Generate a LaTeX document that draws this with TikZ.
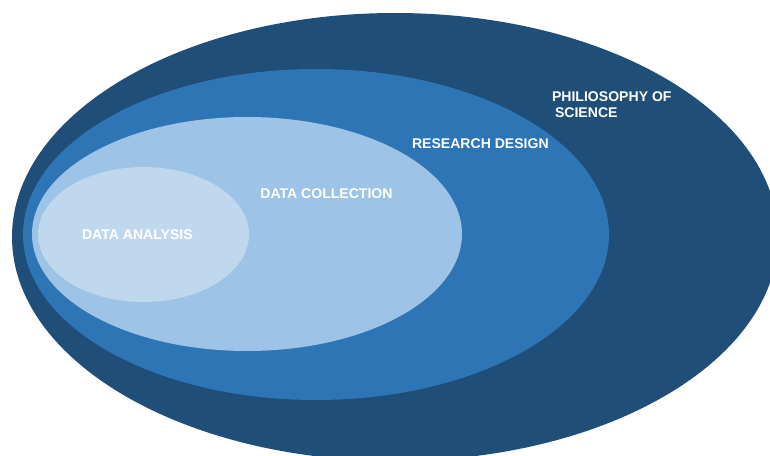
\documentclass[tikz,border=0pt]{standalone}
\usepackage{fontspec}
\setmainfont{Liberation Sans}
\usepackage{tikz}
\usetikzlibrary{positioning}
\usepackage{xcolor}
\definecolor{philo}{RGB}{31, 78, 121}
\definecolor{design}{RGB}{46, 117, 182}
\definecolor{collect}{RGB}{157, 195, 230}
\definecolor{analyse}{RGB}{192, 216, 238}

\begin{document}
\begin{tikzpicture}[font=\fontsize{8}{9.1}\selectfont\bfseries,
    layer/.style={text=white, inner sep=0pt}]
  \useasboundingbox (0,0) rectangle (15.4,-9.12);
  % nested ellipses, outermost first
  \fill[philo] (7.90,-4.74) ellipse [x radius=7.66cm, y radius=4.48cm];
  \fill[design] (6.32,-4.69) ellipse [x radius=5.86cm, y radius=3.31cm];
  \fill[collect] (4.94,-4.68) ellipse [x radius=4.30cm, y radius=2.34cm];
  \fill[analyse] (2.87,-4.69) ellipse [x radius=2.11cm, y radius=1.35cm];
  % labels
  \node[layer, align=left, anchor=north west] (PS) at (11.034,-1.83)
    {PHILIOSOPHY OF\\\hspace*{1.7pt}SCIENCE};
  \node[layer, anchor=base west] (RD) at (8.234,-2.966) {RESEARCH DESIGN};
  \node[layer, anchor=base west] (DC) at (5.20,-3.966) {DATA COLLECTION};
  \node[layer, anchor=base west] (DA) at (1.634,-4.786) {DATA ANALYSIS};
\end{tikzpicture}
\end{document}
